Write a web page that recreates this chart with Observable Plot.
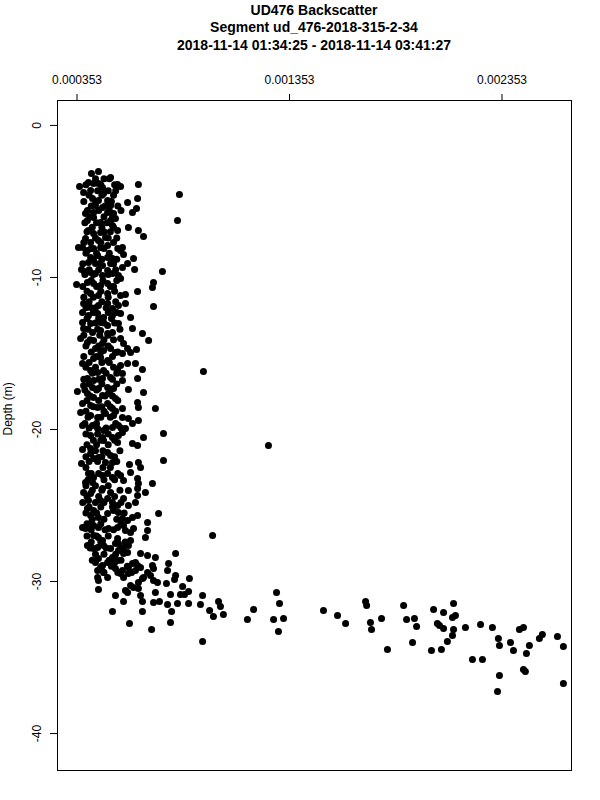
<!DOCTYPE html>
<html><head><meta charset="utf-8">
<script src="https://cdn.jsdelivr.net/npm/d3@7"></script>
<script src="https://cdn.jsdelivr.net/npm/@observablehq/plot@0.6"></script>
<style>
body{margin:0;background:#fff;font-family:"Liberation Sans",Arial,Helvetica,sans-serif;overflow:hidden;}
#title{position:relative;width:600px;height:60px;}
#title div{position:absolute;left:28px;width:572px;text-align:center;font-weight:bold;font-size:14px;line-height:14px;white-space:nowrap;}
svg{display:block;}
</style></head><body>
<div id="title">
  <div id="t1" style="top:3px"></div>
  <div id="t2" style="top:20px"></div>
  <div id="t3" style="top:38px"></div>
</div>
<div id="chart"></div>
<script>
const titleLines = ["UD476 Backscatter", "Segment ud_476-2018-315-2-34", "2018-11-14 01:34:25 - 2018-11-14 03:41:27"];
const xTicks = [0.000353, 0.001353, 0.002353];
const yTicks = [0, -10, -20, -30, -40];
const yLabel = "Depth (m)";

// upper cluster (0 to -11 m)
const bsUpper = [
421e-6,454e-6,511e-6,365e-6,407e-6,431e-6,454e-6,473e-6,544e-6,558e-6,
642e-6,384e-6,417e-6,478e-6,835e-6,638e-6,591e-6,426e-6,454e-6,497e-6,
440e-6,473e-6,511e-6,402e-6,431e-6,497e-6,525e-6,633e-6,614e-6,826e-6,
393e-6,402e-6,431e-6,464e-6,511e-6,534e-6,520e-6,544e-6,595e-6,642e-6,
666e-6,407e-6,431e-6,464e-6,487e-6,393e-6,417e-6,454e-6,379e-6,360e-6,
402e-6,431e-6,464e-6,497e-6,567e-6,558e-6,417e-6,450e-6,497e-6,520e-6,
407e-6,440e-6,473e-6,511e-6,572e-6,619e-6,591e-6,567e-6,374e-6,388e-6,
624e-6,755e-6,417e-6,440e-6,473e-6,497e-6,520e-6,548e-6,558e-6,351e-6,
402e-6,431e-6,464e-6,497e-6,525e-6,713e-6,708e-6,638e-6,417e-6,454e-6,
497e-6,558e-6,581e-6];
const depthUpper = [
-3.16,-3.03,-3.42,-4.01,-3.75,-3.82,-3.82,-4.08,-3.88,-4.01,
-3.88,-4.41,-4.28,-4.47,-4.54,-4.80,-5.07,-4.80,-4.93,-4.93,
-5.26,-5.39,-5.26,-5.59,-5.72,-5.72,-5.79,-5.46,-5.72,-6.25,
-5.79,-6.25,-6.05,-6.38,-6.25,-6.12,-6.58,-6.91,-6.71,-6.91,
-7.30,-6.91,-7.11,-7.04,-7.37,-7.43,-7.70,-7.57,-8.03,-8.03,
-8.22,-8.09,-8.03,-7.89,-8.03,-8.22,-8.68,-8.55,-8.68,-8.75,
-9.01,-9.08,-9.21,-9.08,-8.49,-8.75,-9.08,-9.34,-9.47,-9.61,
-9.47,-9.61,-9.67,-9.74,-9.87,-9.54,-9.74,-9.87,-10.07,-10.46,
-10.33,-10.39,-10.53,-10.39,-10.59,-10.33,-10.66,-10.92,-11.05,-11.18,
-11.05,-11.18,-11.12];

// middle cluster (-11 to -21 m)
const bsMiddle = [
713e-6,384e-6,417e-6,454e-6,497e-6,520e-6,548e-6,581e-6,379e-6,407e-6,
450e-6,478e-6,520e-6,558e-6,605e-6,379e-6,417e-6,464e-6,497e-6,548e-6,
614e-6,661e-6,690e-6,384e-6,426e-6,464e-6,497e-6,520e-6,370e-6,402e-6,
431e-6,473e-6,558e-6,572e-6,440e-6,478e-6,511e-6,534e-6,567e-6,591e-6,
605e-6,633e-6,431e-6,464e-6,497e-6,379e-6,558e-6,591e-6,544e-6,628e-6,
661e-6,417e-6,450e-6,478e-6,402e-6,431e-6,473e-6,511e-6,567e-6,567e-6,
638e-6,384e-6,426e-6,454e-6,497e-6,525e-6,355e-6,595e-6,666e-6,402e-6,
431e-6,473e-6,501e-6,534e-6,638e-6,642e-6,722e-6,379e-6,417e-6,450e-6,
497e-6,520e-6,567e-6,370e-6,417e-6,450e-6,487e-6,525e-6,567e-6,595e-6,
642e-6,760e-6,379e-6,426e-6,450e-6,478e-6,520e-6,548e-6,581e-6,614e-6,
417e-6,473e-6,548e-6,666e-6,948e-6,1254e-6];
const depthMiddle = [
-11.91,-11.71,-11.97,-11.84,-11.71,-12.04,-11.84,-11.71,-12.30,-12.50,
-12.37,-12.63,-12.50,-12.37,-12.63,-12.96,-13.03,-12.96,-13.16,-13.03,
-13.36,-13.68,-14.14,-13.36,-13.62,-13.49,-13.68,-13.62,-14.01,-14.28,
-14.14,-14.34,-14.01,-14.34,-14.67,-14.80,-14.67,-14.93,-15.00,-14.67,
-14.93,-14.74,-15.33,-15.26,-15.46,-15.66,-15.79,-15.66,-16.05,-15.66,
-16.05,-16.12,-16.25,-16.12,-16.64,-16.78,-16.64,-16.58,-16.32,-16.78,
-16.64,-17.11,-17.24,-17.30,-17.24,-17.30,-17.50,-17.37,-17.57,-17.63,
-17.89,-17.76,-17.63,-17.96,-18.22,-18.55,-18.62,-18.29,-18.42,-18.55,
-18.29,-18.62,-18.62,-18.88,-19.08,-19.21,-18.95,-19.08,-19.21,-19.28,
-19.41,-20.26,-19.74,-19.74,-19.93,-20.07,-19.87,-19.74,-19.93,-19.61,
-20.39,-20.53,-20.39,-20.53,-16.18,-21.05];

// lower cluster (-20 to -30 m)
const bsLower = [
520e-6,478e-6,567e-6,544e-6,379e-6,417e-6,417e-6,431e-6,454e-6,497e-6,
511e-6,487e-6,520e-6,614e-6,638e-6,760e-6,374e-6,600e-6,642e-6,652e-6,
605e-6,407e-6,431e-6,393e-6,426e-6,473e-6,497e-6,520e-6,558e-6,572e-6,
638e-6,642e-6,708e-6,473e-6,511e-6,595e-6,638e-6,675e-6,384e-6,417e-6,
407e-6,440e-6,464e-6,497e-6,520e-6,544e-6,572e-6,595e-6,628e-6,638e-6,
402e-6,431e-6,417e-6,454e-6,497e-6,525e-6,548e-6,567e-6,591e-6,614e-6,
638e-6,737e-6,685e-6,379e-6,393e-6,417e-6,431e-6,454e-6,501e-6,544e-6,
572e-6,581e-6,605e-6,619e-6,685e-6,675e-6,991e-6,431e-6,454e-6,473e-6,
478e-6,544e-6,534e-6,548e-6,605e-6,402e-6,431e-6,450e-6,511e-6,548e-6,
572e-6,591e-6,595e-6,652e-6,685e-6,722e-6,817e-6,784e-6,454e-6,473e-6,
497e-6,520e-6,544e-6,572e-6,567e-6,595e-6,628e-6,652e-6,685e-6,699e-6,
450e-6,534e-6,558e-6,450e-6,497e-6,817e-6,779e-6];
const depthLower = [
-20.53,-20.72,-20.20,-20.86,-21.32,-21.25,-21.58,-21.91,-21.84,-21.51,
-21.71,-22.17,-22.17,-20.92,-21.05,-22.04,-22.24,-22.30,-22.17,-22.50,
-22.83,-22.89,-23.16,-23.49,-23.49,-23.03,-22.89,-23.16,-23.03,-23.36,
-23.22,-23.55,-23.55,-23.88,-24.14,-24.01,-23.88,-24.14,-24.14,-24.21,
-24.67,-24.80,-24.67,-24.54,-24.80,-25.00,-24.54,-25.00,-24.80,-24.34,
-25.20,-25.33,-25.66,-25.79,-25.53,-25.33,-25.46,-25.86,-25.99,-25.79,
-25.66,-25.53,-26.12,-26.45,-26.51,-26.18,-26.32,-26.45,-26.51,-26.45,
-26.32,-26.64,-26.78,-26.51,-26.64,-27.11,-26.97,-26.97,-27.11,-27.30,
-27.63,-27.17,-27.50,-27.50,-27.30,-27.63,-27.83,-27.76,-27.83,-27.96,
-27.76,-28.09,-27.63,-28.16,-28.29,-28.42,-28.16,-28.82,-28.49,-28.95,
-28.75,-28.42,-28.62,-28.16,-29.28,-29.47,-29.28,-29.08,-29.41,-29.61,
-29.28,-29.14,-29.47,-29.74,-29.74,-29.61,-29.28];

// dense core of the water-column cluster (overlapping dots, estimated)
const bsCore = [
440e-6,480e-6,505e-6, 395e-6,465e-6,530e-6, 450e-6,500e-6,535e-6, 410e-6,470e-6,525e-6,
385e-6,440e-6,515e-6, 420e-6,485e-6,545e-6, 455e-6,505e-6,560e-6, 415e-6,480e-6,520e-6,
390e-6,445e-6,495e-6, 425e-6,470e-6,525e-6, 400e-6,480e-6,510e-6, 440e-6,500e-6,540e-6,
385e-6,465e-6,525e-6, 420e-6,480e-6,545e-6, 395e-6,445e-6,505e-6, 430e-6,470e-6,540e-6,
380e-6,460e-6,525e-6, 410e-6,455e-6,535e-6, 390e-6,430e-6,500e-6, 420e-6,475e-6,540e-6,
380e-6,445e-6,510e-6, 400e-6,465e-6,530e-6, 385e-6,430e-6,500e-6, 410e-6,470e-6,535e-6,
395e-6,440e-6,490e-6, 430e-6,500e-6,540e-6, 400e-6,455e-6,515e-6, 440e-6,480e-6,530e-6,
405e-6,450e-6,555e-6, 385e-6,460e-6,500e-6, 415e-6,480e-6,525e-6, 395e-6,455e-6,500e-6,
420e-6,465e-6,545e-6, 385e-6,445e-6,520e-6, 410e-6,470e-6,505e-6, 395e-6,440e-6,525e-6,
425e-6,490e-6,540e-6, 385e-6,455e-6,520e-6, 410e-6,470e-6,540e-6, 390e-6,445e-6,510e-6,
415e-6,485e-6,520e-6, 400e-6,455e-6,545e-6, 430e-6,470e-6,510e-6, 395e-6,480e-6,535e-6,
405e-6,465e-6,510e-6, 390e-6,445e-6,535e-6, 410e-6,490e-6,560e-6, 395e-6,450e-6,500e-6,
430e-6,465e-6,530e-6, 400e-6,445e-6,500e-6, 440e-6,475e-6,555e-6, 395e-6,470e-6,530e-6,
410e-6,450e-6,540e-6, 395e-6,475e-6,510e-6, 420e-6,455e-6,545e-6, 405e-6,480e-6,530e-6,
395e-6,440e-6,500e-6, 425e-6,470e-6,555e-6, 400e-6,455e-6,530e-6, 380e-6,480e-6,560e-6,
410e-6,465e-6,520e-6, 395e-6,445e-6,575e-6, 425e-6,480e-6,540e-6, 400e-6,465e-6,560e-6,
420e-6,485e-6,525e-6, 400e-6,445e-6,500e-6, 420e-6,465e-6,580e-6, 415e-6,490e-6,560e-6,
440e-6,480e-6,535e-6, 425e-6,505e-6,560e-6, 470e-6,515e-6,590e-6, 480e-6,545e-6,610e-6];
const depthCore = [
-3.5,-3.5,-3.5, -3.9,-3.9,-3.9, -4.3,-4.3,-4.3, -4.6,-4.6,-4.6,
-5.0,-5.0,-5.0, -5.3,-5.3,-5.3, -5.6,-5.6,-5.6, -6.0,-6.0,-6.0,
-6.4,-6.4,-6.4, -6.7,-6.7,-6.7, -7.0,-7.0,-7.0, -7.4,-7.4,-7.4,
-7.7,-7.7,-7.7, -8.1,-8.1,-8.1, -8.4,-8.4,-8.4, -8.8,-8.8,-8.8,
-9.1,-9.1,-9.1, -9.5,-9.5,-9.5, -9.8,-9.8,-9.8, -10.2,-10.2,-10.2,
-10.6,-10.6,-10.6, -10.9,-10.9,-10.9, -11.3,-11.3,-11.3, -11.6,-11.6,-11.6,
-12.0,-12.0,-12.0, -12.3,-12.3,-12.3, -12.7,-12.7,-12.7, -13.0,-13.0,-13.0,
-13.4,-13.4,-13.4, -13.8,-13.8,-13.8, -14.1,-14.1,-14.1, -14.5,-14.5,-14.5,
-14.9,-14.9,-14.9, -15.2,-15.2,-15.2, -15.6,-15.6,-15.6, -15.9,-15.9,-15.9,
-16.3,-16.3,-16.3, -16.7,-16.7,-16.7, -17.0,-17.0,-17.0, -17.4,-17.4,-17.4,
-17.8,-17.8,-17.8, -18.1,-18.1,-18.1, -18.5,-18.5,-18.5, -18.8,-18.8,-18.8,
-19.2,-19.2,-19.2, -19.6,-19.6,-19.6, -19.9,-19.9,-19.9, -20.3,-20.3,-20.3,
-20.7,-20.7,-20.7, -21.0,-21.0,-21.0, -21.4,-21.4,-21.4, -21.8,-21.8,-21.8,
-22.1,-22.1,-22.1, -22.5,-22.5,-22.5, -22.9,-22.9,-22.9, -23.3,-23.3,-23.3,
-23.7,-23.7,-23.7, -24.0,-24.0,-24.0, -24.4,-24.4,-24.4, -24.8,-24.8,-24.8,
-25.1,-25.1,-25.1, -25.5,-25.5,-25.5, -25.9,-25.9,-25.9, -26.2,-26.2,-26.2,
-26.6,-26.6,-26.6, -27.0,-27.0,-27.0, -27.4,-27.4,-27.4, -27.8,-27.8,-27.8,
-28.2,-28.2,-28.2, -28.6,-28.6,-28.6, -29.0,-29.0,-29.0, -29.4,-29.4,-29.4];

// bottom layer (-29 to -38 m)
const bsBottom = [
440e-6,464e-6,478e-6,530e-6,572e-6,595e-6,614e-6,628e-6,638e-6,708e-6,
713e-6,454e-6,454e-6,605e-6,581e-6,591e-6,619e-6,642e-6,652e-6,642e-6,
661e-6,666e-6,534e-6,572e-6,520e-6,600e-6,661e-6,661e-6,713e-6,732e-6,
722e-6,713e-6,741e-6,704e-6,774e-6,812e-6,793e-6,779e-6,798e-6,793e-6,
826e-6,840e-6,859e-6,878e-6,878e-6,882e-6,850e-6,944e-6,934e-6,944e-6,
977e-6,995e-6,1019e-6,1028e-6,1042e-6,1155e-6,1184e-6,1292e-6,1306e-6,1278e-6,
1301e-6,1325e-6,1513e-6,1579e-6,1617e-6,1711e-6,1716e-6,1734e-6,1739e-6,1786e-6,
1814e-6,1890e-6,1904e-6,1941e-6,1951e-6,1932e-6,2031e-6,2078e-6,2049e-6,2059e-6,
2078e-6,2021e-6,2068e-6,2125e-6,2120e-6,2134e-6,2125e-6,2120e-6,2096e-6,2181e-6,
2214e-6,2261e-6,2252e-6,2308e-6,2336e-6,2341e-6,2341e-6,2332e-6,2393e-6,2407e-6,
2435e-6,2454e-6,2482e-6,2468e-6,2454e-6,2463e-6,2529e-6,2543e-6,2614e-6,2642e-6,
2642e-6];
const depthBottom = [
-28.75,-29.08,-29.41,-28.75,-29.74,-29.08,-28.82,-28.75,-28.95,-28.95,
-29.14,-29.93,-30.53,-30.26,-30.59,-30.72,-30.39,-30.46,-30.92,-30.07,
-29.80,-29.74,-30.92,-31.32,-31.97,-32.76,-31.97,-31.32,-29.93,-30.07,
-30.72,-31.38,-31.32,-33.16,-30.13,-29.87,-30.86,-31.51,-31.97,-32.70,
-31.45,-30.86,-30.86,-30.66,-31.45,-29.80,-30.33,-30.92,-31.51,-33.95,
-31.91,-32.30,-31.32,-31.64,-32.17,-32.50,-31.84,-30.72,-31.45,-32.50,
-33.29,-32.43,-31.91,-32.24,-32.76,-31.32,-31.58,-32.70,-33.16,-32.43,
-34.47,-31.58,-32.50,-32.43,-32.96,-34.01,-31.84,-32.04,-32.76,-32.89,
-33.09,-34.54,-34.47,-31.45,-32.37,-32.24,-33.16,-33.55,-33.95,-33.03,
-35.13,-35.13,-32.83,-33.03,-33.75,-34.21,-36.18,-37.24,-34.01,-34.54,
-33.16,-33.03,-34.21,-34.74,-35.79,-35.92,-33.75,-33.49,-33.62,-34.28,
-36.71];

const xDomain = [0.0002612, 0.0026801];
const yDomain = [-42.43, 1.64];

const groups = [[bsUpper, depthUpper], [bsMiddle, depthMiddle], [bsLower, depthLower], [bsCore, depthCore], [bsBottom, depthBottom]];
const data = [];
for (const [bs, dp] of groups) {
  const n = Math.min(bs.length, dp.length);
  for (let i = 0; i < n; i++) data.push({bs: bs[i], depth: dp[i]});
}

document.getElementById("t1").textContent = titleLines[0];
document.getElementById("t2").textContent = titleLines[1];
document.getElementById("t3").textContent = titleLines[2];

const fontFam = '"Liberation Sans", Arial, Helvetica, sans-serif';
const chart = Plot.plot({
  width: 600,
  height: 740,
  marginTop: 40,
  marginBottom: 30,
  marginLeft: 57,
  marginRight: 29,
  style: {fontFamily: fontFam, fontSize: "12px", background: "white", color: "black", overflow: "visible"},
  x: {domain: xDomain},
  y: {domain: yDomain},
  marks: [
    Plot.frame({stroke: "black", strokeWidth: 1}),
    Plot.axisX({anchor: "top", ticks: xTicks, tickFormat: d => d.toFixed(6), tickSize: 7, tickPadding: 10, label: null, fontSize: 12}),
    Plot.axisY({anchor: "left", ticks: yTicks, tickFormat: d => String(d), tickSize: 7, tickPadding: 10, tickRotate: -90, label: null, fontSize: 12}),
    Plot.text([yLabel], {frameAnchor: "left", dx: -49, rotate: -90, fontSize: 12, fill: "black"}),
    Plot.dot(data, {x: "bs", y: "depth", r: 3.5, fill: "black", stroke: "none"})
  ]
});
document.getElementById("chart").appendChild(chart);
</script>
</body></html>
